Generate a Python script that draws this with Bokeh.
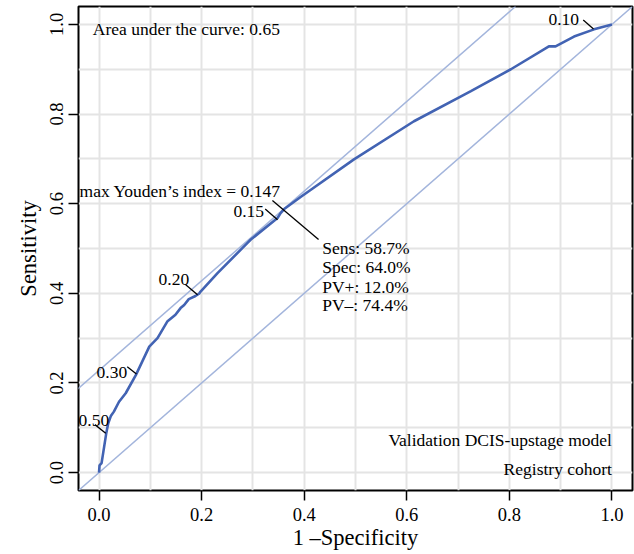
from bokeh.plotting import figure
from bokeh.models import Range1d, FixedTicker, Slope, ColumnDataSource, PrintfTickFormatter
from bokeh.core.properties import value
from bokeh.embed import file_html
from bokeh.resources import INLINE

# ROC curve (1 - specificity, sensitivity)
fpr = [0.0, 0.001, 0.005, 0.014, 0.018, 0.023, 0.029, 0.039, 0.052, 0.072, 0.098,
       0.114, 0.133, 0.149, 0.159, 0.166, 0.175, 0.188, 0.195, 0.198, 0.231, 0.289,
       0.296, 0.348, 0.354, 0.361, 0.393, 0.497, 0.614, 0.725, 0.803, 0.877, 0.890,
       0.926, 0.965, 1.0]
tpr = [0.0, 0.016, 0.021, 0.087, 0.110, 0.126, 0.136, 0.158, 0.177, 0.218, 0.281,
       0.300, 0.337, 0.352, 0.367, 0.374, 0.387, 0.394, 0.399, 0.404, 0.445, 0.512,
       0.520, 0.568, 0.579, 0.588, 0.615, 0.699, 0.784, 0.851, 0.900, 0.951, 0.951,
       0.973, 0.989, 1.0]

# threshold labels: point on curve, leader start, text position
thr_labels = ["0.50", "0.30", "0.20", "0.15", "0.10"]
thr_px = [0.013, 0.073, 0.192, 0.348, 0.964]
thr_py = [0.088, 0.220, 0.397, 0.564, 0.990]
thr_lx = [-0.008, 0.055, 0.169, 0.324, 0.944]
thr_ly = [0.107, 0.236, 0.419, 0.588, 1.010]
thr_tx = [-0.010, 0.025, 0.146, 0.292, 0.906]
thr_ty = [0.117, 0.223, 0.430, 0.582, 1.012]

# Youden's index annotation
youden_label = "max Youden\u2019s index = 0.147"
youden_tx, youden_ty = 0.354, 0.628
youden_seg = ([0.338, 0.428], [0.607, 0.520])
youden_j = 0.228
stats_labels = ["Sens: 58.7%", "Spec: 64.0%", "PV+: 12.0%", "PV\u2013: 74.4%"]
stats_x = [0.435, 0.435, 0.435, 0.435]
stats_y = [0.502, 0.459, 0.415, 0.374]

auc_label = "Area under the curve: 0.65"
cohort_labels = ["Validation DCIS-upstage model", "Registry cohort"]
cohort_y = [0.072, 0.007]

axis_ticks = [0.0, 0.2, 0.4, 0.6, 0.8, 1.0]
grid_ticks = [0.0, 0.1, 0.2, 0.3, 0.4, 0.5, 0.6, 0.7, 0.8, 0.9, 1.0]

FONT = value("Liberation Serif")
CURVE = "#4263B3"
DIAG = "#A3B5DC"

p = figure(width=634, height=554, x_range=Range1d(-0.04, 1.04), y_range=Range1d(-0.04, 1.04),
           output_backend="svg", toolbar_location=None,
           min_border_left=78, min_border_right=2, min_border_top=6, min_border_bottom=64)
p.background_fill_color = "white"
p.border_fill_color = "white"
p.outline_line_color = "black"
p.outline_line_width = 2
p.outline_line_alpha = 1.0

for g in (p.xgrid, p.ygrid):
    g.ticker = FixedTicker(ticks=grid_ticks)
    g.grid_line_color = "#E4E4E4"
    g.grid_line_width = 2

for ax in (p.xaxis, p.yaxis):
    ax.ticker = FixedTicker(ticks=axis_ticks)
    ax.formatter = PrintfTickFormatter(format="%.1f")
    ax.axis_line_color = None
    ax.major_tick_line_color = "black"
    ax.major_tick_line_width = 1.5
    ax.major_tick_out = 10
    ax.major_tick_in = 0
    ax.minor_tick_line_color = None
    ax.major_label_text_font = "Liberation Serif"
    ax.major_label_text_font_size = "18.5px"
    ax.major_label_text_color = "black"
    ax.axis_label_text_font = "Liberation Serif"
    ax.axis_label_text_font_size = "22.5px"
    ax.axis_label_text_font_style = "normal"
    ax.axis_label_text_color = "black"

p.xaxis.major_label_standoff = 7
p.xaxis.axis_label_standoff = 1
p.yaxis.major_label_standoff = 5
p.yaxis.axis_label_standoff = 7

p.xaxis.axis_label = "1 \u2013Specificity"
p.yaxis.axis_label = "Sensitivity"
p.yaxis.major_label_orientation = "vertical"

p.add_layout(Slope(gradient=1, y_intercept=0, line_color=DIAG, line_width=1.5, level="underlay"))
p.add_layout(Slope(gradient=1, y_intercept=youden_j, line_color=DIAG, line_width=1.5, level="underlay"))

p.line(fpr, tpr, line_color=CURVE, line_width=2.6)

thr_src = ColumnDataSource(dict(x0=thr_lx, y0=thr_ly, x1=thr_px, y1=thr_py,
                                tx=thr_tx, ty=thr_ty, text=thr_labels))
p.segment(x0="x0", y0="y0", x1="x1", y1="y1", source=thr_src, line_color="black", line_width=1.3)
p.text(x="tx", y="ty", text="text", source=thr_src, text_font=FONT, text_font_size="17.5px",
       text_align="center", text_baseline="middle", text_color="black")

p.segment(x0=[youden_seg[0][0]], y0=[youden_seg[1][0]], x1=[youden_seg[0][1]], y1=[youden_seg[1][1]],
          line_color="black", line_width=1.3)
p.text(x=[youden_tx], y=[youden_ty], text=[youden_label], text_font=FONT, text_font_size="17.5px",
       text_align="right", text_baseline="middle", text_color="black")
p.text(x=stats_x, y=stats_y, text=stats_labels, text_font=FONT, text_font_size="17.5px",
       text_align="left", text_baseline="middle", text_color="black")

p.text(x=[-0.012], y=[0.989], text=[auc_label], text_font=FONT, text_font_size="17.5px",
       text_align="left", text_baseline="middle", text_color="black")
p.text(x=[1.0, 1.0], y=cohort_y, text=cohort_labels, text_font=FONT, text_font_size="17.5px",
       text_align="right", text_baseline="middle", text_color="black")

open("out.html", "w").write(file_html(p, INLINE))
